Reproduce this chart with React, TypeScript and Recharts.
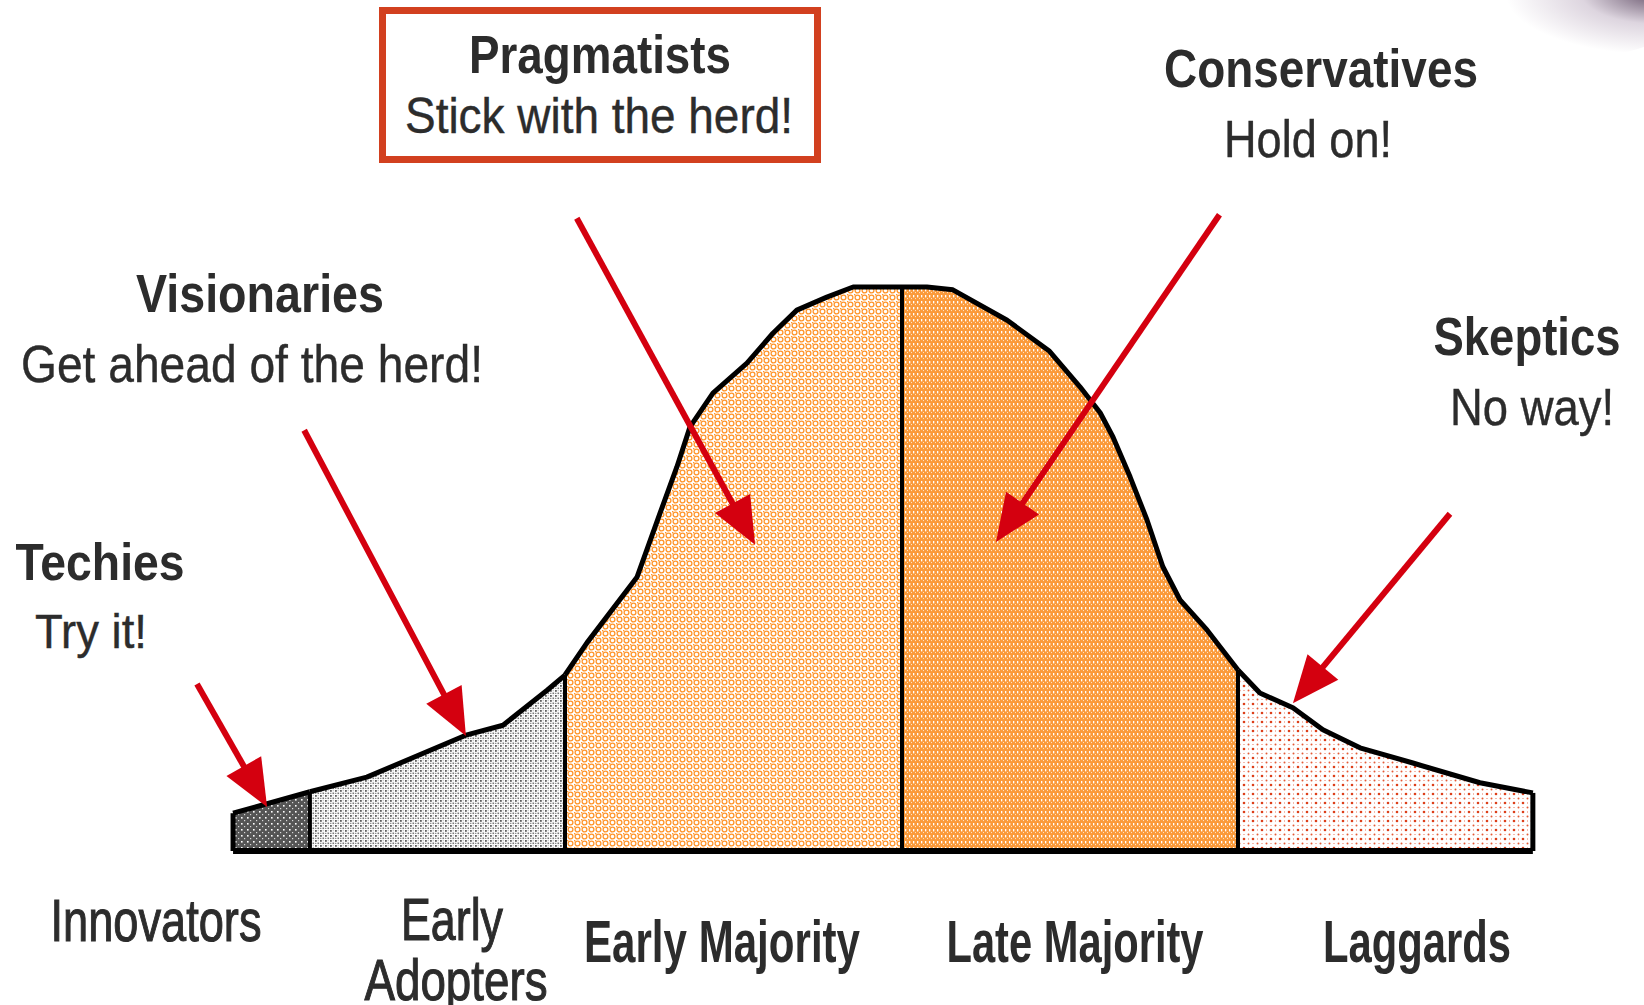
import React from 'react';
import { ComposedChart, Area, XAxis, YAxis, ReferenceLine } from 'recharts';

// Bell curve outline (x in standard-deviation units, y in % of peak height)
const curveX = [-1.985, -1.757, -1.588, -1.291, -1.184, -1.053, -1.0, -0.935, -0.786, -0.718, -0.668, -0.629, -0.561, -0.46, -0.383, -0.312, -0.223, -0.145, 0, 0.074, 0.151, 0.312, 0.436, 0.528, 0.588, 0.626, 0.677, 0.727, 0.774, 0.825, 0.905, 0.997, 1.062, 1.16, 1.249, 1.359, 1.516, 1.715, 1.872];
const curveY = [6.7, 10.5, 13.1, 20.6, 22.3, 28.5, 31.2, 36.9, 48.6, 59.9, 68.1, 75.2, 81.2, 86.5, 91.8, 95.9, 98.2, 100, 100, 100, 99.5, 94.1, 88.7, 82.3, 77.7, 73.4, 66.3, 58.7, 50.4, 44.5, 39.2, 32.1, 28.0, 25.4, 21.5, 18.3, 15.6, 12.1, 10.3];

// Segments
const segmentKeys = ['innovators', 'earlyAdopters', 'earlyMajority', 'lateMajority', 'laggards'];
const segmentEdges = [-1.985, -1.757, -1.0, 0, 0.997, 1.872];
const segmentLabels = ['Innovators', 'Early|Adopters', 'Early Majority', 'Late Majority', 'Laggards'];

// Personas
const personaTitles = ['Techies', 'Visionaries', 'Pragmatists', 'Conservatives', 'Skeptics'];
const personaMottos = ['Try it!', 'Get ahead of the herd!', 'Stick with the herd!', 'Hold on!', 'No way!'];

// Arrows (from -> to), same units as curve
const arrowFromX = [-2.092, -1.774, -0.965, 0.942, 1.626];
const arrowFromY = [29.6, 74.6, 112.2, 112.8, 59.8];
const arrowToX = [-1.884, -1.294, -0.436, 0.279, 1.16];
const arrowToY = [7.8, 20.4, 54.3, 54.8, 26.2];

const RED = '#d4000f';
const TEXT = '#2c2c2c';
const FONT = '"Liberation Sans", Arial, sans-serif';

const data = curveX.map((x, i) => {
  const row: Record<string, number | null> = { x };
  segmentKeys.forEach((k, s) => {
    row[k] = x >= segmentEdges[s] - 1e-9 && x <= segmentEdges[s + 1] + 1e-9 ? curveY[i] : null;
  });
  return row;
});

const edgeHeight = (e: number) => curveY[curveX.indexOf(e)];

const ArrowShape = (props: any) => {
  const { x1, y1, x2, y2 } = props;
  const dx = x2 - x1;
  const dy = y2 - y1;
  const len = Math.hypot(dx, dy) || 1;
  const ux = dx / len;
  const uy = dy / len;
  const headLen = 47;
  const headHalf = 20;
  const bx = x2 - ux * headLen;
  const by = y2 - uy * headLen;
  const px = -uy;
  const py = ux;
  return (
    <g>
      <line x1={x1} y1={y1} x2={bx + ux * 6} y2={by + uy * 6} stroke={RED} strokeWidth={6} />
      <polygon
        points={`${x2},${y2} ${bx + px * headHalf},${by + py * headHalf} ${bx - px * headHalf},${by - py * headHalf}`}
        fill={RED}
      />
    </g>
  );
};

const fills = ['url(#pInnov)', 'url(#pEarlyAd)', 'url(#pEarlyMaj)', 'url(#pLateMaj)', 'url(#pLaggards)'];

type T = { text: string; cx: number; y: number; w: number; size: number; bold: boolean; thick?: number };

const texts: T[] = [
  { text: personaTitles[2], cx: 600, y: 73, w: 262, size: 53, bold: true },
  { text: personaMottos[2], cx: 599, y: 133, w: 388, size: 50, bold: false, thick: 0.4 },
  { text: personaTitles[3], cx: 1321, y: 87, w: 314, size: 54, bold: true },
  { text: personaMottos[3], cx: 1308, y: 157, w: 168, size: 52, bold: false, thick: 0.4 },
  { text: personaTitles[1], cx: 260, y: 312, w: 248, size: 54, bold: true },
  { text: personaMottos[1], cx: 252, y: 382, w: 462, size: 52, bold: false, thick: 0.4 },
  { text: personaTitles[4], cx: 1527, y: 355, w: 187, size: 54, bold: true },
  { text: personaMottos[4], cx: 1532, y: 425, w: 164, size: 52, bold: false, thick: 0.4 },
  { text: personaTitles[0], cx: 100, y: 580, w: 169, size: 52, bold: true },
  { text: personaMottos[0], cx: 91, y: 648, w: 112, size: 49, bold: false, thick: 0.4 },
  { text: segmentLabels[0], cx: 156, y: 941, w: 211, size: 60, bold: false, thick: 1.1 },
  { text: segmentLabels[1].split('|')[0], cx: 452, y: 940, w: 102, size: 59, bold: false, thick: 1.1 },
  { text: segmentLabels[1].split('|')[1], cx: 456, y: 1000, w: 183, size: 58, bold: false, thick: 1.1 },
  { text: segmentLabels[2], cx: 722, y: 962, w: 276, size: 60, bold: true },
  { text: segmentLabels[3], cx: 1075, y: 962, w: 257, size: 60, bold: true },
  { text: segmentLabels[4], cx: 1417, y: 962, w: 188, size: 60, bold: true },
];

export default function App() {
  return (
    <div style={{ position: 'absolute', left: 0, top: 0, width: 1644, height: 1005, background: '#fff', overflow: 'hidden' }}>
      <div
        style={{
          position: 'absolute',
          right: -40,
          top: -40,
          width: 180,
          height: 95,
          borderRadius: '50%',
          background: 'radial-gradient(ellipse at 85% 35%, rgba(95,75,100,0.95) 0%, rgba(170,150,175,0.4) 35%, rgba(255,255,255,0) 70%)',
        }}
      />
      <svg width={0} height={0} style={{ position: 'absolute' }}>
        <defs>
          <pattern id="pInnov" width={6} height={6} patternUnits="userSpaceOnUse">
            <rect width={6} height={6} fill="#555555" />
            <rect x={1} y={1} width={1.6} height={1.6} fill="#ffffff" />
            <rect x={4} y={4} width={1.2} height={1.2} fill="#d8d8d8" />
          </pattern>
          <pattern id="pEarlyAd" width={5} height={5} patternUnits="userSpaceOnUse">
            <rect width={5} height={5} fill="#ffffff" />
            <rect x={0} y={0} width={1.8} height={1.8} fill="#5e5e5e" />
            <rect x={2.5} y={2.5} width={1.6} height={1.6} fill="#777777" />
            <rect x={0} y={2.8} width={1.4} height={1.2} fill="#909090" />
            <rect x={2.7} y={0.2} width={1} height={1} fill="#a8a8a8" />
          </pattern>
          <pattern id="pEarlyMaj" width={7} height={7} patternUnits="userSpaceOnUse">
            <rect width={7} height={7} fill="#ffffff" />
            <circle cx={3.5} cy={3.5} r={2.4} fill="none" stroke="#ff952b" strokeWidth={1.3} />
            <rect x={0} y={0} width={1.4} height={1.4} fill="#ff952b" />
          </pattern>
          <pattern id="pLateMaj" width={4} height={6} patternUnits="userSpaceOnUse">
            <rect width={4} height={6} fill="#fb9a3a" />
            <rect x={1} y={1} width={1.3} height={2.4} fill="#ffffff" />
            <rect x={3} y={4} width={0.9} height={1.1} fill="#ffe9d0" />
          </pattern>
          <pattern id="pLaggards" width={9} height={9} patternUnits="userSpaceOnUse">
            <rect width={9} height={9} fill="#ffffff" />
            <circle cx={2} cy={2} r={1.3} fill="#dd3f1a" />
            <circle cx={6.5} cy={6.5} r={1} fill="#e45a35" />
            <rect x={6} y={1.5} width={1} height={1} fill="#e8755a" />
            <rect x={1.5} y={6} width={1} height={1} fill="#e8755a" />
          </pattern>
        </defs>
      </svg>

      <div style={{ position: 'absolute', left: 0, top: 0 }}>
        <ComposedChart width={1644} height={1005} data={data} margin={{ top: 5, right: 17.45, bottom: 154, left: 25.8 }}>
          <XAxis type="number" dataKey="x" domain={[-2.6, 2.15]} hide allowDataOverflow />
          <YAxis type="number" domain={[0, 150]} hide allowDataOverflow />
          {segmentKeys.map((k, i) => (
            <Area
              key={k}
              type="linear"
              dataKey={k}
              stroke="#000"
              strokeWidth={5}
              strokeLinejoin="round"
              fill={fills[i]}
              fillOpacity={1}
              connectNulls={false}
              dot={false}
              activeDot={false}
              isAnimationActive={false}
            />
          ))}
          {segmentEdges.map((e, i) => (
            <ReferenceLine
              key={'edge' + i}
              segment={[{ x: e, y: 0 }, { x: e, y: edgeHeight(e) }]}
              stroke="#000"
              strokeWidth={i === 0 || i === segmentEdges.length - 1 ? 5 : 4}
              ifOverflow="visible"
            />
          ))}
          <ReferenceLine
            segment={[{ x: segmentEdges[0], y: 0 }, { x: segmentEdges[segmentEdges.length - 1], y: 0 }]}
            stroke="#000"
            strokeWidth={6}
            ifOverflow="visible"
          />
          {arrowFromX.map((fx, i) => (
            <ReferenceLine
              key={'arrow' + i}
              segment={[{ x: fx, y: arrowFromY[i] }, { x: arrowToX[i], y: arrowToY[i] }]}
              ifOverflow="visible"
              shape={ArrowShape}
            />
          ))}
        </ComposedChart>
      </div>

      <svg width={1644} height={1005} style={{ position: 'absolute', left: 0, top: 0, pointerEvents: 'none' }}>
        <rect x={382.5} y={10.5} width={435} height={149} fill="none" stroke="#d2401f" strokeWidth={7} />
        {texts.map((t, i) => (
          <text
            key={i}
            x={t.cx}
            y={t.y}
            textAnchor="middle"
            textLength={t.w}
            lengthAdjust="spacingAndGlyphs"
            fontFamily={FONT}
            fontSize={t.size}
            fontWeight={t.bold ? 700 : 400}
            fill={TEXT}
            stroke={t.thick ? TEXT : 'none'}
            strokeWidth={t.thick || 0}
          >
            {t.text}
          </text>
        ))}
      </svg>
    </div>
  );
}
